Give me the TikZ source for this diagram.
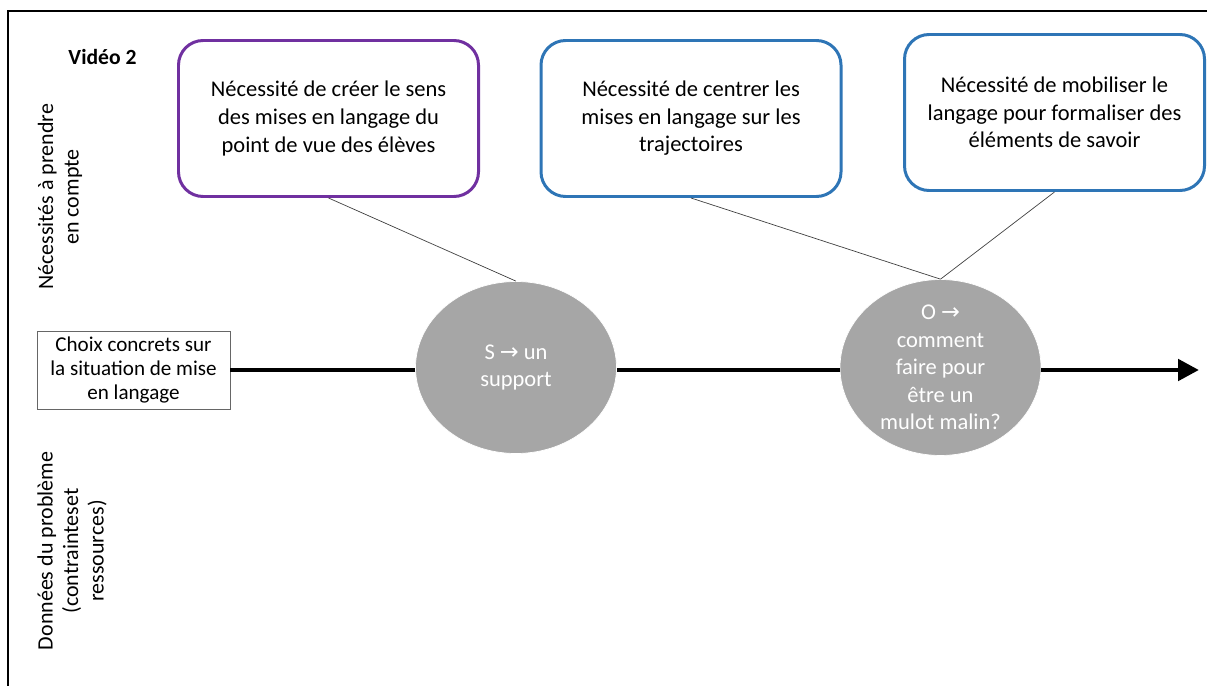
\documentclass[tikz,border=0pt]{standalone}
\usepackage{fontspec}
\setmainfont{Carlito}
\newfontfamily\arrowfont{DejaVu Sans}
\usepackage{xcolor}
\usepackage{tikz}
\usetikzlibrary{arrows.meta,positioning,calc,shapes.geometric}
\definecolor{needpurple}{HTML}{7030A0}
\definecolor{needblue}{HTML}{2E75B6}
\definecolor{stepgray}{HTML}{A6A6A6}
\newcommand{\toarrow}{{\arrowfont\char"2192}}

\begin{document}
\begin{tikzpicture}[
  need/.style={draw=needblue, line width=1.7pt, rounded corners=14pt,
    minimum width=6.0cm, minimum height=3.12cm, align=center,
    font=\fontsize{12.8}{15.7}\selectfont},
  stage/.style={ellipse, fill=stepgray, draw=white, minimum width=4.02cm,
    minimum height=3.44cm, inner sep=0pt, align=center, text=white,
    font=\fontsize{12.8}{15.6}\selectfont},
  choice/.style={draw=black!60, align=center, minimum width=3.86cm,
    minimum height=1.56cm, inner sep=1pt, font=\fontsize{12}{13.6}\selectfont},
  side/.style={rotate=90, align=center, font=\fontsize{12.5}{14.5}\selectfont},
  link/.style={draw=black!75, thin},
  axis/.style={line width=2.8pt}
]
  \useasboundingbox (0,0) rectangle (24.14,-13.72);
  \draw[line width=0.8pt] (0.16,-0.22) rectangle (25,-14.5);

  % titles
  \node[font=\fontsize{12.3}{14}\selectfont\bfseries] (title) at (2.05,-1.14) {Vidéo 2};
  \node[side] (upper) at (1.2,-3.94) {Nécessités à prendre\\en compte};
  \node[side] (lower) at (1.44,-11.02) {Données du problème\\(contrainteset\\ressources)};

  % needs
  \node[need, draw=needpurple] (sens) at (6.57,-2.37)
    {Nécessité de créer le sens\\des mises en langage du\\point de vue des élèves};
  \node[need] (traj) at (13.82,-2.37)
    {Nécessité de centrer les\\mises en langage sur les\\trajectoires};
  \node[need] (savoir) at (21.09,-2.25)
    {Nécessité de mobiliser le\\langage pour formaliser des\\éléments de savoir};

  % timeline
  \node[choice] (choix) at (2.67,-7.40) {Choix concrets sur\\la situation de mise\\en langage};
  \node[stage] (support) at (10.32,-7.35) {S \toarrow{} un\\support};
  \node[stage] (mulot) at (18.81,-7.35) {O \toarrow\\comment\\faire pour\\être un\\mulot malin?};
  \coordinate (end) at (23.98,-7.40);

  \draw[axis] (choix.east) -- (choix.east -| support.west);
  \draw[axis] (choix.east -| support.east) -- (choix.east -| mulot.west);
  \draw[axis, -{Triangle[length=0.42cm, width=0.42cm]}] (choix.east -| mulot.east) -- (end);

  % links
  \draw[link] (sens.south) -- (support.north);
  \draw[link] (traj.south) -- (mulot.north);
  \draw[link] (savoir.south) -- (mulot.north);
\end{tikzpicture}
\end{document}
